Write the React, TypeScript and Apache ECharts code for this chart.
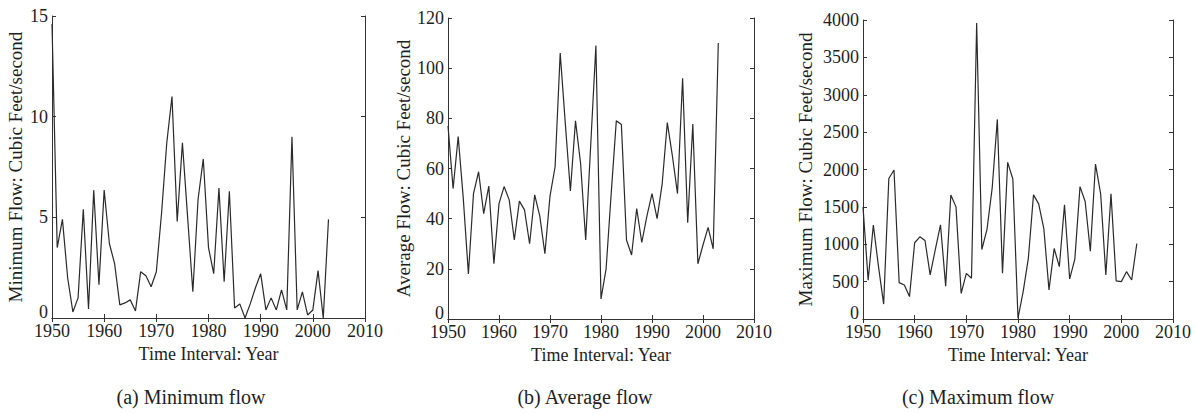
import React, { useEffect, useRef } from "react";
import * as echarts from "echarts";

const years: number[] = [];
for (let y = 1950; y <= 2003; y++) years.push(y);

const minFlow = [
  14.6, 3.5, 4.9, 2.0, 0.3, 1.0, 5.4, 0.45, 6.35, 1.65,
  6.35, 3.7, 2.7, 0.65, 0.75, 0.9, 0.35, 2.3, 2.1, 1.55,
  2.3, 5.2, 8.7, 11.0, 4.8, 8.7, 5.0, 1.3, 5.9, 7.9,
  3.5, 2.2, 6.45, 1.8, 6.3, 0.5, 0.7, 0.0, 0.7, 1.5,
  2.2, 0.4, 1.0, 0.4, 1.4, 0.4, 9.0, 0.4, 1.3, 0.15,
  0.4, 2.35, 0.0, 4.9,
];

const avgFlow = [
  77, 52, 72.7, 48, 18, 50, 58.7, 42, 53, 22,
  46, 52.8, 47.5, 31.5, 47, 43.5, 30, 49.5, 41, 26,
  49, 60.7, 106, 78, 51, 79, 62, 31.5, 70, 109,
  8, 20, 50, 79, 77.5, 31.5, 25.5, 44, 30.5, 41,
  50, 40, 54, 78.3, 65, 50, 96, 38.4, 77.7, 22,
  29.5, 36.5, 28, 110,
];

const maxFlow = [
  1500, 520, 1257, 700, 200, 1880, 1993, 486, 455, 300,
  1020, 1100, 1050, 590, 930, 1260, 440, 1660, 1500, 343,
  610, 545, 3960, 930, 1200, 1750, 2670, 611, 2095, 1873,
  10, 367, 810, 1660, 1540, 1209, 390, 943, 700, 1528,
  536, 800, 1771, 1572, 908, 2073, 1674, 589, 1674, 509,
  500, 633, 522, 1010,
];

const panels = [
  { yName: "Minimum Flow: Cubic Feet/second", data: minFlow, yMax: 15, yInt: 5, caption: "(a) Minimum flow" },
  { yName: "Average Flow: Cubic Feet/second", data: avgFlow, yMax: 120, yInt: 20, caption: "(b) Average flow" },
  { yName: "Maximum Flow: Cubic Feet/second", data: maxFlow, yMax: 4000, yInt: 500, caption: "(c) Maximum flow" },
];

const grids = [
  { left: 52, top: 16, width: 313, height: 302, nameGap: 27, capX: 191 },
  { left: 448, top: 18, width: 306, height: 301, nameGap: 33, capX: 585 },
  { left: 863, top: 20, width: 310, height: 299, nameGap: 48, capX: 978 },
];

const FONT = "'Liberation Serif', 'Times New Roman', serif";
const INK = "#333";
const TXT = "#1e1e1e";

export default function App() {
  const ref = useRef<HTMLDivElement>(null);
  useEffect(() => {
    if (!ref.current) return;
    const chart = echarts.init(ref.current, undefined, { renderer: "svg" });
    const grid: any[] = [];
    const xAxis: any[] = [];
    const yAxis: any[] = [];
    const series: any[] = [];
    const graphic: any[] = [];
    panels.forEach((p, i) => {
      const g = grids[i];
      grid.push({ left: g.left, top: g.top, width: g.width, height: g.height, containLabel: false });
      const axLine = { show: true, lineStyle: { color: INK, width: 1 } };
      const tick = { show: true, inside: true, length: 4, lineStyle: { color: INK } };
      xAxis.push({
        type: "value", gridIndex: i, min: 1950, max: 2010, interval: 10, position: "bottom",
        axisLine: axLine, axisTick: tick, splitLine: { show: false },
        axisLabel: { color: TXT, fontFamily: FONT, fontSize: 18, margin: 4, formatter: (v: number) => String(v) },
        name: "Time Interval: Year", nameLocation: "middle", nameGap: 21,
        nameTextStyle: { color: TXT, fontFamily: FONT, fontSize: 18 },
      });
      xAxis.push({
        type: "value", gridIndex: i, min: 1950, max: 2010, interval: 10, position: "top",
        axisLine: axLine, axisTick: tick, splitLine: { show: false }, axisLabel: { show: false },
      });
      yAxis.push({
        type: "value", gridIndex: i, min: 0, max: p.yMax, interval: p.yInt, position: "left",
        axisLine: axLine, axisTick: tick, splitLine: { show: false },
        axisLabel: {
          color: TXT, fontFamily: FONT, fontSize: 18, margin: 4,
          formatter: (v: number) => (v === 0 ? "{z|0}" : String(v)),
          rich: { z: { color: TXT, fontFamily: FONT, fontSize: 18, padding: [0, 0, 12, 0] } },
        },
        name: p.yName, nameLocation: "middle", nameGap: g.nameGap, nameRotate: 90,
        nameTextStyle: { color: TXT, fontFamily: FONT, fontSize: 19 },
      });
      yAxis.push({
        type: "value", gridIndex: i, min: 0, max: p.yMax, interval: p.yInt, position: "right",
        axisLine: axLine, axisTick: tick, splitLine: { show: false }, axisLabel: { show: false },
      });
      series.push({
        type: "line", xAxisIndex: i * 2, yAxisIndex: i * 2,
        data: years.map((y, k) => [y, p.data[k]]),
        showSymbol: false, symbol: "none",
        lineStyle: { color: "#2a2a2a", width: 1.2 },
      });
      graphic.push({
        type: "text", x: g.capX, y: 397,
        style: { text: p.caption, fill: TXT, font: `20px ${FONT}`, textAlign: "center", textVerticalAlign: "middle" },
      });
    });
    chart.setOption({
      animation: false,
      backgroundColor: "#fff",
      grid, xAxis, yAxis, series, graphic,
    });
    return () => chart.dispose();
  }, []);
  return (
    <div
      ref={ref}
      style={{ position: "fixed", left: 0, top: 0, width: 1196, height: 415, background: "#fff" }}
    />
  );
}
